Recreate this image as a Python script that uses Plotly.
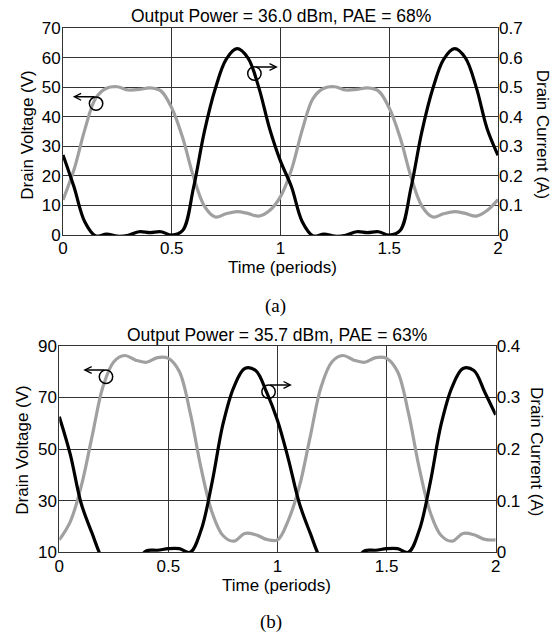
import plotly.graph_objects as go

# ---------------- data ----------------
time_a = [0, 0.05, 0.1, 0.15, 0.2, 0.25, 0.3, 0.35, 0.4, 0.45, 0.5, 0.55, 0.6, 0.65, 0.7, 0.75, 0.8, 0.85, 0.9, 0.95,
          1.0, 1.05, 1.1, 1.15, 1.2, 1.25, 1.3, 1.35, 1.4, 1.45, 1.5, 1.55, 1.6, 1.65, 1.7, 1.75, 1.8, 1.85, 1.9, 1.95, 2.0]
voltage_a = [11.9, 22, 35.6, 46.3, 49.7, 50.2, 49.1, 49.3, 49.8, 48.8, 43, 33, 19.7, 9.8, 6.1, 7.2, 7.9, 7.3, 6.4, 8.3,
             13, 22, 35.6, 46.3, 49.7, 50.2, 49.1, 49.3, 49.8, 48.8, 43, 33, 19.7, 9.8, 6.1, 7.2, 7.9, 7.3, 6.4, 8.3, 12]
current_a = [0.271, 0.164, 0.045, -0.003, 0.003, -0.004, -0.001, 0.011, 0.008, 0.011, 0.0, 0.015, 0.16, 0.35, 0.495,
             0.595, 0.631, 0.60, 0.50, 0.36,
             0.25, 0.164, 0.045, -0.003, 0.003, -0.004, -0.001, 0.011, 0.008, 0.011, 0.0, 0.015, 0.16, 0.35, 0.495,
             0.595, 0.631, 0.60, 0.50, 0.36, 0.27]

time_b = time_a
voltage_b = [14.8, 21.8, 35.4, 54.8, 74.1, 83.8, 86.2, 84.4, 83.6, 85.4, 85.1, 80, 64, 42.5, 25.5, 16.5, 14.3, 17.3, 16.8, 15,
             14.8, 22.5, 35.4, 54.8, 74.1, 83.8, 86.2, 84.4, 83.6, 85.4, 85.1, 80, 64, 42.5, 25.5, 16.5, 14.3, 17.3, 16.8, 15, 14.8]
current_b = [0.2625, 0.19, 0.095, 0.037, -0.015, -0.04, -0.04, -0.02, 0.003, 0.004, 0.007, 0.007, 0.0, 0.043, 0.135,
             0.248, 0.32, 0.356, 0.352, 0.31,
             0.255, 0.18, 0.095, 0.037, -0.015, -0.04, -0.04, -0.02, 0.003, 0.004, 0.007, 0.007, 0.0, 0.043, 0.135,
             0.248, 0.32, 0.356, 0.352, 0.31, 0.266]

x_ticks = [0, 0.5, 1, 1.5, 2]
x_ticktext = ["0", "0.5", "1", "1.5", "2"]
va_ticks = [0, 10, 20, 30, 40, 50, 60, 70]
ia_ticks = [0, 0.1, 0.2, 0.3, 0.4, 0.5, 0.6, 0.7]
ia_ticktext = ["0", "0.1", "0.2", "0.3", "0.4", "0.5", "0.6", "0.7"]
vb_ticks = [10, 30, 50, 70, 90]
ib_ticks = [0, 0.1, 0.2, 0.3, 0.4]
ib_ticktext = ["0", "0.1", "0.2", "0.3", "0.4"]

title_a = "Output Power = 36.0 dBm, PAE = 68%"
title_b = "Output Power = 35.7 dBm, PAE = 63%"

# ---------------- figure ----------------
W, H = 557, 635
FONT = "Liberation Sans, Arial, sans-serif"
GRAY = "#a0a0a0"
BLACK = "#000000"
GRID = "#333333"

fig = go.Figure()
fig.add_trace(go.Scatter(x=time_a, y=voltage_a, mode="lines", line=dict(color=GRAY, width=3.2, shape="spline"),
                         xaxis="x", yaxis="y", showlegend=False))
fig.add_trace(go.Scatter(x=time_a, y=current_a, mode="lines", line=dict(color=BLACK, width=3.2, shape="spline"),
                         xaxis="x", yaxis="y2", showlegend=False))
fig.add_trace(go.Scatter(x=time_b, y=voltage_b, mode="lines", line=dict(color=GRAY, width=3.2, shape="spline"),
                         xaxis="x2", yaxis="y3", showlegend=False))
fig.add_trace(go.Scatter(x=time_b, y=current_b, mode="lines", line=dict(color=BLACK, width=3.2, shape="spline"),
                         xaxis="x2", yaxis="y4", showlegend=False))

tickfont = dict(family=FONT, size=17, color="black")


def xax(domain, anchor):
    return dict(domain=domain, anchor=anchor, range=[0, 2], tickvals=x_ticks, ticktext=x_ticktext,
                showgrid=True, gridcolor=GRID, gridwidth=1, zeroline=False, showline=True, linecolor=GRID,
                linewidth=1, mirror=True, ticks="", tickfont=tickfont, automargin=False,
                ticklabelstandoff=-2)


def yleft(domain, anchor, rng, vals):
    return dict(domain=domain, anchor=anchor, range=rng, tickvals=vals, ticktext=[str(v) for v in vals],
                showgrid=True, gridcolor=GRID, gridwidth=1, zeroline=False, showline=True, linecolor=GRID,
                linewidth=1, mirror=True, ticks="", tickfont=tickfont, automargin=False,
                ticklabelstandoff=-2)


def yright(over, anchor, rng, vals, text):
    return dict(overlaying=over, anchor=anchor, side="right", range=rng, tickvals=vals, ticktext=text,
                showgrid=False, zeroline=False, showline=False, ticks="", tickfont=tickfont, automargin=False)


fig.update_layout(
    width=W, height=H, autosize=False,
    margin=dict(l=0, r=0, t=0, b=0, autoexpand=False),
    paper_bgcolor="white", plot_bgcolor="white",
    xaxis=xax([63 / W, 498 / W], "y"),
    yaxis=yleft([1 - 235 / H, 1 - 28.3 / H], "x", [0, 70], va_ticks),
    yaxis2=yright("y", "x", [0, 0.7], ia_ticks, ia_ticktext),
    xaxis2=xax([59.3 / W, 495.7 / W], "y3"),
    yaxis3=yleft([1 - 552.3 / H, 1 - 345.7 / H], "x2", [10, 90], vb_ticks),
    yaxis4=yright("y3", "x2", [0, 0.4], ib_ticks, ib_ticktext),
)

ann = []


def text(t, x, y, size=17, angle=0, family=FONT):
    ann.append(dict(text=t, x=x / W, y=1 - y / H, xref="paper", yref="paper", xanchor="center",
                    yanchor="middle", showarrow=False, textangle=angle,
                    font=dict(family=family, size=size, color="black")))


text(title_a, 280.5, 16, size=17.5)
text(title_b, 277.2, 335, size=17.5)
text("Time (periods)", 282.8, 267)
text("Time (periods)", 276.2, 585)
text("Drain Voltage (V)", 26.7, 135, angle=-90)
text("Drain Voltage (V)", 21.7, 450, angle=-90)
text("Drain Current (A)", 543.3, 134, angle=90)
text("Drain Current (A)", 536.7, 451.7, angle=90)
text("(a)", 275.3, 306, size=19, family="Liberation Serif, Times New Roman, serif")
text("(b)", 271, 622, size=19, family="Liberation Serif, Times New Roman, serif")

# arrows (head at x, tail at ax)
arrows = [
    ("x", "y", 0.045, 46.8, 0.152),
    ("x", "y", 0.988, 56.9, 0.880),
    ("x2", "y3", 0.110, 80.6, 0.214),
    ("x2", "y3", 1.066, 74.8, 0.959),
]
for xr, yr, hx, hy, tx in arrows:
    ann.append(dict(text="", x=hx, y=hy, xref=xr, yref=yr, ax=tx, ay=hy, axref=xr, ayref=yr,
                    showarrow=True, arrowhead=5, arrowsize=0.9, arrowwidth=1.5, arrowcolor="black",
                    standoff=0, startstandoff=0))
fig.update_layout(annotations=ann)

circles = [
    ("x", "y", 0.152, 44.5),
    ("x", "y", 0.880, 54.7),
    ("x2", "y3", 0.214, 78.0),
    ("x2", "y3", 0.959, 72.2),
]
shapes = []
for xr, yr, cx, cy in circles:
    shapes.append(dict(type="circle", xref=xr, yref=yr, xsizemode="pixel", ysizemode="pixel",
                       xanchor=cx, yanchor=cy, x0=-6.7, x1=6.7, y0=-6.7, y1=6.7,
                       line=dict(color="black", width=1.5), fillcolor="rgba(0,0,0,0)", layer="above"))
fig.update_layout(shapes=shapes)

fig.write_html("out.html", config={"displayModeBar": False, "staticPlot": True},
               post_script="document.body.style.margin='0';document.body.style.overflow='hidden';")
